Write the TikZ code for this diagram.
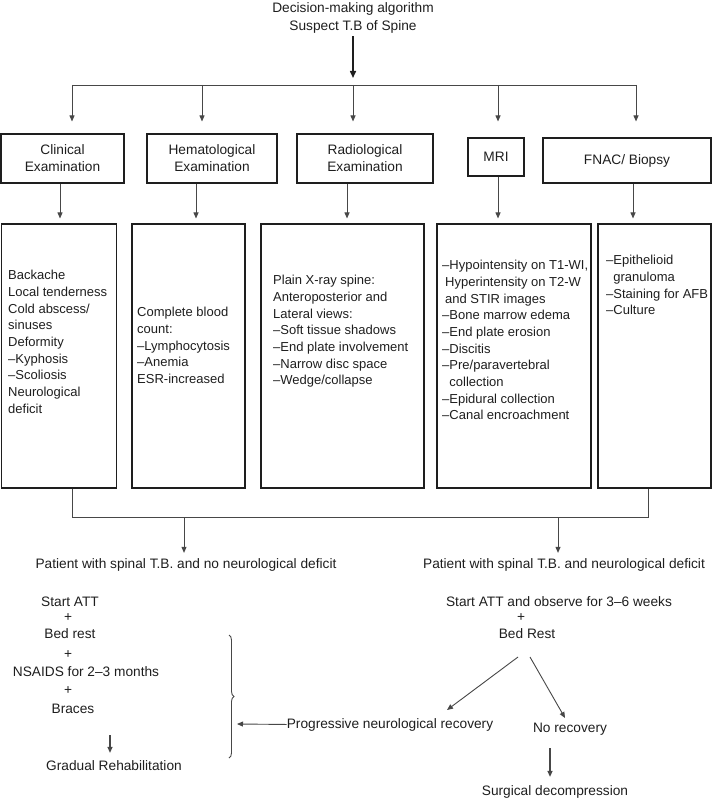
\documentclass[tikz,border=0pt]{standalone}
\usepackage{fontspec}
\setmainfont{Liberation Sans}
\usetikzlibrary{arrows.meta, positioning, decorations.pathreplacing}
\definecolor{ink}{HTML}{1E1E1E}
\definecolor{wire}{HTML}{474747}
\newcommand{\bfont}{\fontsize{13.7}{17}\selectfont}
\newcommand{\lfont}{\fontsize{13}{16.7}\selectfont}
\tikzset{
  headbox/.style = {rectangle, draw=ink, line width=1.1pt, align=center,
                    inner sep=0pt, font=\bfont, text=ink},
  listbox/.style = {rectangle, draw=ink, line width=1.1pt,
                    minimum height=264pt, inner sep=0pt},
  listtxt/.style = {anchor=north west, align=left, inner sep=0pt,
                    font=\lfont, text=ink},
  txt/.style     = {anchor=base, inner sep=0pt, font=\bfont, text=ink},
  arrow/.style   = {-{Triangle[length=6pt, width=5pt]}, draw=wire, line width=0.9pt},
  tharrow/.style = {-{Triangle[length=7pt, width=6pt]}, draw=ink, line width=1.5pt},
  bus/.style     = {draw=wire, line width=0.9pt},
}
\begin{document}
\begin{tikzpicture}[x=1pt, y=-1pt]
  \useasboundingbox (0,0) rectangle (713,799);

  \node[font=\fontsize{13.7}{18}\selectfont, align=center, inner sep=0pt, text=ink]
        (title) at (353,17.5) {Decision-making algorithm\\Suspect T.B of Spine};
  \coordinate (hub) at (353,85);
  \draw[tharrow, shorten <=3pt] (title.south) -- ([yshift=7pt]hub);
  \draw[bus] (hub -| 72,0) -- (hub -| 636,0);

  \node[headbox, minimum width=123pt, minimum height=49pt] (clin) at (62.5,158.5) {Clinical\\Examination};
  \node[headbox, minimum width=130pt, minimum height=49pt] (hem)  at (212,158.5)  {Hematological\\Examination};
  \node[headbox, minimum width=136pt, minimum height=49pt] (rad)  at (365,158.5)  {Radiological\\Examination};
  \node[headbox, minimum width=56pt,  minimum height=38pt] (mri)  at (496,157)    {MRI};
  \node[headbox, minimum width=168pt, minimum height=45pt] (fnac) at (627,160.5)  {FNAC/ Biopsy};
  \foreach \x/\n/\s in {72/clin/12pt, 202/hem/12pt, 353/rad/12pt, 498/mri/16pt, 636/fnac/16pt}
    \draw[arrow, shorten >=\s] (hub -| \x,0) -- (\n.north -| \x,0);

  \node[listbox, minimum width=115pt] (clinb) at (59,356)    {};
  \node[listbox, minimum width=113pt] (hemb)  at (188.5,356) {};
  \node[listbox, minimum width=163pt] (radb)  at (342.5,356) {};
  \node[listbox, minimum width=154pt] (mrib)  at (514,356)   {};
  \node[listbox, minimum width=113pt] (fnacb) at (654.5,356) {};
  \foreach \x/\n/\m in {60/clin/clinb, 196/hem/hemb, 347/rad/radb, 498/mri/mrib, 633/fnac/fnacb}
    \draw[arrow, shorten >=5pt] (\n.south -| \x,0) -- (\m.north -| \x,0);

  \node[listtxt] (clint) at (8,270)
        {Backache\\Local tenderness\\Cold abscess/\\sinuses\\Deformity\\–Kyphosis\\–Scoliosis\\Neurological\\deficit};
  \node[listtxt] (hemt) at (137,307)
        {Complete blood\\count:\\–Lymphocytosis\\–Anemia\\ESR-increased};
  \node[listtxt] (radt) at (273,275)
        {Plain X-ray spine:\\Anteroposterior and\\Lateral views:\\–Soft tissue shadows\\–End plate involvement\\–Narrow disc space\\–Wedge/collapse};
  \node[listtxt] (mrit) at (442,260)
        {–Hypointensity on T1-WI,\\\hspace*{3pt}Hyperintensity on T2-W\\\hspace*{3pt}and STIR images\\–Bone marrow edema\\–End plate erosion\\–Discitis\\–Pre/paravertebral\\\phantom{–}collection\\–Epidural collection\\–Canal encroachment};
  \node[listtxt] (fnact) at (606,255)
        {–Epithelioid\\\phantom{–}granuloma\\–Staining for AFB\\–Culture};

  \coordinate (joinL) at (72,517);
  \coordinate (joinR) at (648,517);
  \draw[bus] (clinb.south -| joinL) -- (joinL) -- (joinR) -- (fnacb.south -| joinR);

  \node[txt] (nodef)   at (186,568) {Patient with spinal T.B. and no neurological deficit};
  \node[txt] (withdef) at (564,568) {Patient with spinal T.B. and neurological deficit};
  \draw[arrow, shorten >=5pt] (joinL -| 184,0) -- (nodef.north -| 184,0);
  \draw[arrow, shorten >=5pt] (joinL -| 558,0) -- (withdef.north -| 558,0);

  \node[txt] (att)    at (70,606)  {Start ATT};
  \node[txt] (plusa)  at (68,621)  {+};
  \node[txt] (rest)   at (70,638)  {Bed rest};
  \node[txt] (plusb)  at (68,658)  {+};
  \node[txt] (nsaid)  at (86,676)  {NSAIDS for 2–3 months};
  \node[txt] (plusc)  at (68,694)  {+};
  \node[txt] (brace)  at (73,713)  {Braces};
  \node[txt] (rehab)  at (114,770) {Gradual Rehabilitation};
  \draw[arrow, line width=1.2pt, shorten <=22pt, shorten >=7pt] (brace.south -| 110,0) -- (rehab.north -| 110,0);

  \node[txt] (observe) at (559,606) {Start ATT and observe for 3–6 weeks};
  \node[txt] (plusd)   at (521,621) {+};
  \node[txt] (restb)   at (527,638) {Bed Rest};
  \node[txt] (prog)    at (390,728) {Progressive neurological recovery};
  \node[txt] (norec)   at (570,732) {No recovery};
  \node[txt] (surg)    at (555,795) {Surgical decompression};

  \draw[bus, decorate, decoration={brace, amplitude=5pt}] (229,635) -- (229,758);
  \coordinate (bracein) at (237,724);
  \draw[arrow] (prog.west) -- (bracein);

  \coordinate (forkL) at (518,657);
  \coordinate (forkR) at (530,657);
  \coordinate (toprog) at (447,710);
  \coordinate (tonorec) at (565,718);
  \draw[arrow] (forkL) -- (toprog);
  \draw[arrow] (forkR) -- (tonorec);
  \draw[arrow, line width=1.2pt, shorten <=13pt, shorten >=8pt] (norec.south -| 550,0) -- (surg.north -| 550,0);
\end{tikzpicture}
\end{document}
